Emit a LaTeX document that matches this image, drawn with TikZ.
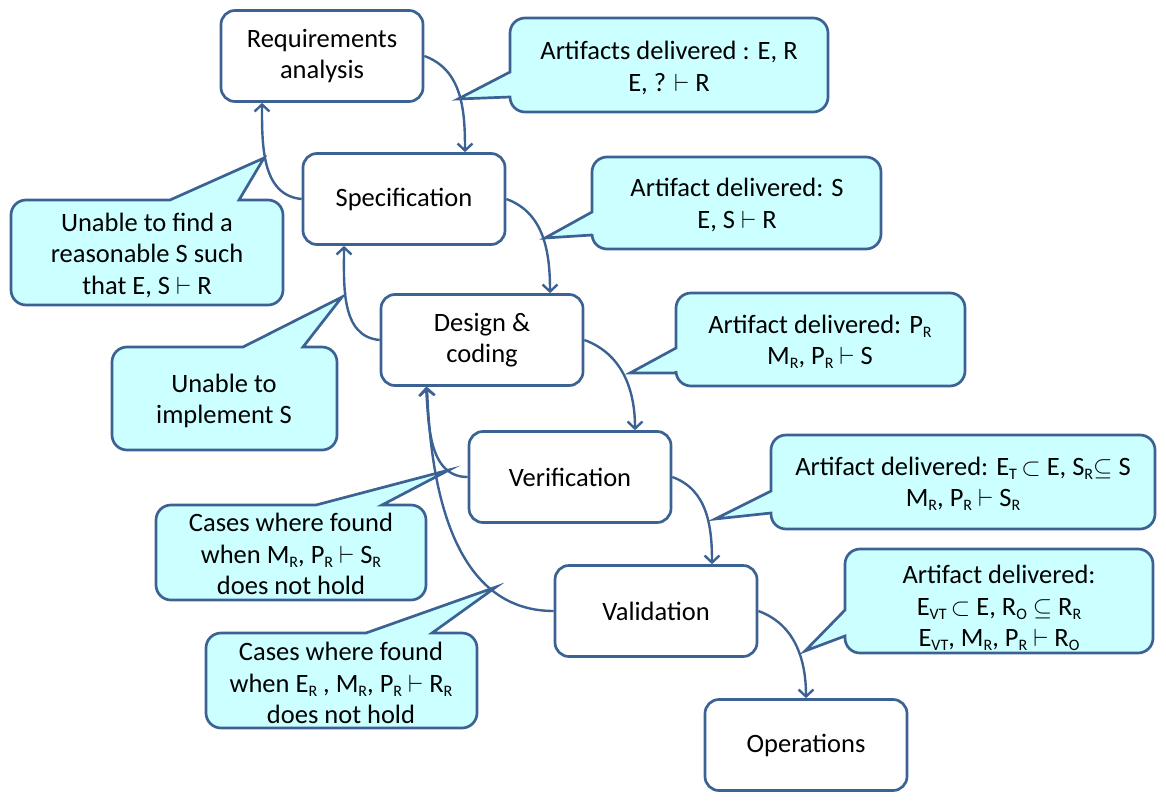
\documentclass[tikz,border=0pt]{standalone}
\usepackage{fontspec}
\setmainfont{Carlito}
\usetikzlibrary{arrows.meta,calc}
\definecolor{lineblue}{RGB}{60,98,148}
\definecolor{callfill}{RGB}{204,255,255}
\newcommand\sbs[1]{\raisebox{-4pt}{\fontsize{16}{16}\selectfont #1}}
\newcommand\vd{\ensuremath{\vdash}}
\newcommand\sbset{\ensuremath{\subset}}
\newcommand\sbseteq{\ensuremath{\subseteq}}
\begin{document}
\begin{tikzpicture}[x=1pt,y=1pt,
  every node/.style={font=\fontsize{26.5}{31.5}\selectfont},
  stage/.style={draw=lineblue,line width=2.7pt,fill=white,rounded corners=14pt,minimum width=202pt,minimum height=91pt,inner sep=0pt,align=center},
  callout/.style={draw=lineblue,line width=2.7pt,fill=callfill,line join=miter},
  ctext/.style={align=center,inner sep=0pt},
  flow/.style={draw=lineblue,line width=2.4pt,-{Straight Barb[length=7pt,width=15pt]}}
]
\useasboundingbox (0,0) rectangle (1166,-803);

% callouts (pointer on left edge)
\draw[callout] (669,-18) [rounded corners=15pt] -- (828,-18) -- (828,-112) -- (510,-112) [sharp corners] -- (510,-97) -- (458,-99) -- (510,-72) [rounded corners=15pt] -- (510,-18) -- cycle;
\draw[callout] (736,-157) [rounded corners=15pt] -- (881,-157) -- (881,-249) -- (592,-249) [sharp corners] -- (592,-235) -- (545,-238) -- (592,-212) [rounded corners=15pt] -- (592,-157) -- cycle;
\draw[callout] (820,-293) [rounded corners=15pt] -- (965,-293) -- (965,-386) -- (676,-386) [sharp corners] -- (676,-373) -- (630,-373) -- (676,-348) [rounded corners=15pt] -- (676,-293) -- cycle;
\draw[callout] (963,-435) [rounded corners=15pt] -- (1155,-435) -- (1155,-529) -- (771,-529) [sharp corners] -- (771,-513) -- (715,-519) -- (771,-491) [rounded corners=15pt] -- (771,-435) -- cycle;
\draw[callout] (999,-549) [rounded corners=15pt] -- (1153,-549) -- (1153,-653) -- (845,-653) [sharp corners] -- (845,-636) -- (805,-651) -- (845,-610) [rounded corners=15pt] -- (845,-549) -- cycle;
% callouts (pointer on top edge)
\draw[callout] (147,-305) [rounded corners=15pt] -- (11,-305) -- (11,-200) [sharp corners] -- (170,-200) -- (264,-158) -- (239,-200) [rounded corners=15pt] -- (283,-200) -- (283,-305) -- cycle;
\draw[callout] (224,-450) [rounded corners=15pt] -- (112,-450) -- (112,-347) [sharp corners] -- (243,-347) -- (342,-297) -- (303,-347) [rounded corners=15pt] -- (337,-347) -- (337,-450) -- cycle;
\draw[callout] (291,-600) [rounded corners=15pt] -- (156,-600) -- (156,-505) [sharp corners] -- (316,-505) -- (449,-470) -- (382,-505) [rounded corners=15pt] -- (426,-505) -- (426,-600) -- cycle;
\draw[callout] (341,-728) [rounded corners=15pt] -- (206,-728) -- (206,-633) [sharp corners] -- (366,-633) -- (496,-587) -- (432,-633) [rounded corners=15pt] -- (477,-633) -- (477,-728) -- cycle;

% callout texts
\node[ctext] (t1) at (669,-68) {Artifacts delivered : E, R\\E, ? \vd{} R};
\node[ctext] (t2) at (737,-205) {Artifact delivered: S\\E, S \vd{} R};
\node[ctext] (t3) at (147,-255) {Unable to find a\\reasonable S such\\that E, S \vd{} R};
\node[ctext] (t4) at (224,-401) {Unable to\\implement S};
\node[ctext] (t5) at (291,-554) {Cases where found\\when M\sbs{R}, P\sbs{R} \vd{} S\sbs{R}\\does not hold};
\node[ctext] (t6) at (341,-683) {Cases where found\\when E\sbs{R} , M\sbs{R}, P\sbs{R} \vd{} R\sbs{R}\\does not hold};
\node[ctext] (t7) at (820,-342) {Artifact delivered: P\sbs{R}\\M\sbs{R}, P\sbs{R} \vd{} S};
\node[ctext] (t8) at (963,-484) {Artifact delivered: E\sbs{T}\,\sbset{} E, S\sbs{R}\sbseteq{} S\\M\sbs{R}, P\sbs{R} \vd{} S\sbs{R}};
\node[ctext] (t9) at (999,-608) {Artifact delivered:\\E\sbs{VT}\,\sbset{} E, R\sbs{O} \sbseteq{} R\sbs{R}\\E\sbs{VT}, M\sbs{R}, P\sbs{R} \vd{} R\sbs{O}};

% stages
\node[stage] (req) at (322,-56) {Requirements\\analysis};
\node[stage] (spec) at (404,-199) {Specification};
\node[stage] (des) at (482,-340) {Design \&\\coding};
\node[stage] (ver) at (570,-477) {Verification};
\node[stage] (val) at (656,-611) {Validation};
\node[stage] (ops) at (806,-745) {Operations};

% forward arrows
\draw[flow] (req.east) to[out=-20,in=90] ([xshift=61pt]spec.north);
\draw[flow] (spec.east) to[out=-20,in=90] ([xshift=68pt]des.north);
\draw[flow] (des.east) to[out=-20,in=90] ([xshift=65pt]ver.north);
\draw[flow] (ver.east) to[out=-20,in=90] ([xshift=56pt]val.north);
\draw[flow] (val.east) to[out=-20,in=90] (ops.north);
% backward arrows
\draw[flow] (spec.west) to[out=175,in=-90] ([xshift=-60pt]req.south);
\draw[flow] (des.west) to[out=175,in=-90] ([xshift=-60pt]spec.south);
\draw[flow] (ver.west) to[out=180,in=-86] ([xshift=-56pt]des.south);
\draw[flow] (val.west) to[out=180,in=-88] ([xshift=-55pt]des.south);
\end{tikzpicture}
\end{document}
